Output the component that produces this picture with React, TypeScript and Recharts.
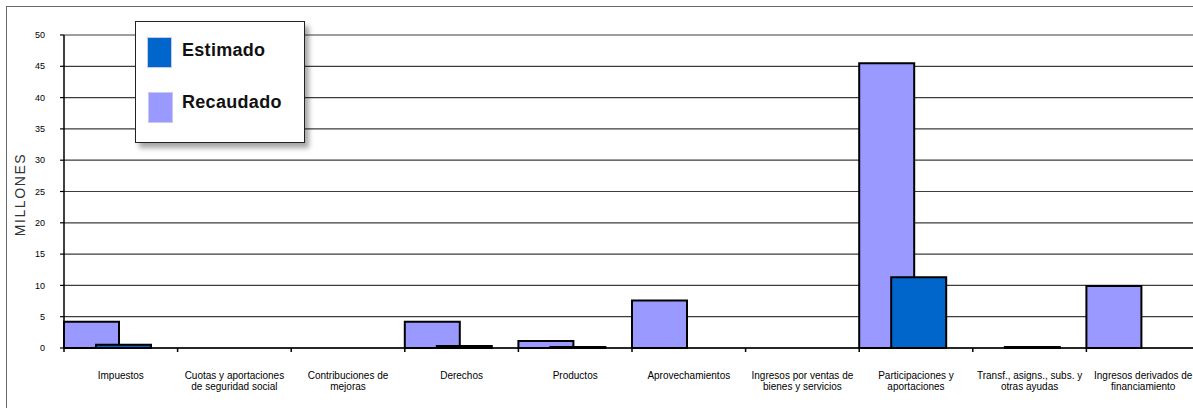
import React from 'react';
import { BarChart, Bar, XAxis, YAxis, CartesianGrid, Legend } from 'recharts';

const categories = [
  'Impuestos',
  'Cuotas y aportaciones\nde seguridad social',
  'Contribuciones de\nmejoras',
  'Derechos',
  'Productos',
  'Aprovechamientos',
  'Ingresos por ventas de\nbienes y servicios',
  'Participaciones y\naportaciones',
  'Transf., asigns., subs. y\notras ayudas',
  'Ingresos derivados de\nfinanciamiento',
];
const estimado = [0.5, 0, 0, 0.3, 0.15, 0, 0, 11.3, 0.15, 0];
const recaudado = [4.2, 0, 0, 4.2, 1.1, 7.6, 0, 45.5, 0, 9.9];
const yTicks = [0, 5, 10, 15, 20, 25, 30, 35, 40, 45, 50];

const data = categories.map((name, i) => ({ name, estimado: estimado[i], recaudado: recaudado[i] }));

const CHART_W = 1220;
const CHART_H = 408;
const MARGIN = { top: 35, right: 20, bottom: 0, left: 0 };
const Y_W = 64;
const BAND = (CHART_W - MARGIN.left - MARGIN.right - Y_W) / categories.length;

const FONT = '"Liberation Sans", Arial, sans-serif';

const XTick = (props: any) => {
  const { x, y, payload } = props;
  const lines = String(payload.value).split('\n');
  return (
    <g>
      <line x1={x - BAND / 2} x2={x - BAND / 2} y1={y} y2={y + 4} stroke="#000" strokeWidth={1.5} />
      {lines.map((l, i) => (
        <text key={i} x={x} y={y + 31 + i * 11} textAnchor="middle" fontSize={10} fontFamily={FONT} fill="#000">
          {l}
        </text>
      ))}
    </g>
  );
};

const LegendBox = () => {
  const item = (color: string, label: string, top: number, swTop: number, swLeft: number) => (
    <>
      <div
        style={{
          position: 'absolute',
          left: swLeft,
          top: swTop,
          width: 25,
          height: 31,
          background: color,
          boxSizing: 'border-box',
          border: '1px solid #c8c8e8',
        }}
      />
      <div
        style={{
          position: 'absolute',
          left: 46,
          top,
          fontFamily: FONT,
          fontWeight: 'bold',
          fontSize: 18,
          lineHeight: '20px',
          color: '#111',
          letterSpacing: 0.3,
          whiteSpace: 'nowrap',
        }}
      >
        {label}
      </div>
    </>
  );
  return (
    <div
      style={{
        position: 'relative',
        width: 170,
        height: 122,
        boxSizing: 'border-box',
        border: '1.5px solid #222',
        background: '#fff',
        boxShadow: '4px 5px 5px rgba(0,0,0,0.35)',
      }}
    >
      {item('#0066CC', 'Estimado', 18, 15, 11)}
      {item('#9999FF', 'Recaudado', 70, 70, 12)}
    </div>
  );
};

const YLabel = (props: any) => {
  const vb = props.viewBox;
  const cx = vb.x + 20;
  const cy = vb.y + vb.height / 2 + 3;
  return (
    <text
      x={cx}
      y={cy}
      transform={`rotate(-90, ${cx}, ${cy})`}
      textAnchor="middle"
      dominantBaseline="central"
      fontSize={14}
      fontFamily={FONT}
      letterSpacing={1.6}
      fill="#333"
    >
      MILLONES
    </text>
  );
};

export default function App() {
  return (
    <div
      style={{
        position: 'fixed',
        left: 0,
        top: 0,
        width: 1193,
        height: 408,
        overflow: 'hidden',
        background: '#fff',
      }}
    >
      <div
        style={{
          position: 'absolute',
          left: 6,
          top: 6,
          width: 1400,
          height: 600,
          border: '1.7px solid #6a6a6a',
        }}
      />
      <div style={{ position: 'absolute', left: 0, top: 0 }}>
        <BarChart width={CHART_W} height={CHART_H} data={data} margin={MARGIN} barSize={55} barGap={-23}>
          <CartesianGrid vertical={false} stroke="#3c3c3c" strokeWidth={1.2} xAxisId="labels" />
          <XAxis xAxisId="bars" dataKey="name" hide height={0} padding={{ left: -13, right: 13 }} />
          <XAxis
            xAxisId="labels"
            dataKey="name"
            height={60}
            tick={<XTick />}
            tickLine={false}
            tickSize={0}
            tickMargin={0}
            interval={0}
            axisLine={{ stroke: '#000', strokeWidth: 1.5 }}
          />
          <YAxis
            width={Y_W}
            domain={[0, 50]}
            ticks={yTicks}
            interval={0}
            tickSize={4}
            tickMargin={15}
            tick={{ fontSize: 9, fontFamily: FONT, fill: '#000' }}
            tickLine={{ stroke: '#000', strokeWidth: 1.2 }}
            axisLine={{ stroke: '#000', strokeWidth: 1.5 }}
            label={<YLabel />}
          />
          <Legend
            layout="vertical"
            align="center"
            verticalAlign="middle"
            content={<LegendBox />}
            wrapperStyle={{ position: 'absolute', top: 21, left: 135, width: 170, height: 122 }}
          />
          <Bar xAxisId="bars" dataKey="recaudado" name="Recaudado" fill="#9999FF" stroke="#000" strokeWidth={2} isAnimationActive={false} />
          <Bar xAxisId="bars" dataKey="estimado" name="Estimado" fill="#0066CC" stroke="#000" strokeWidth={2} isAnimationActive={false} />
        </BarChart>
      </div>
    </div>
  );
}
